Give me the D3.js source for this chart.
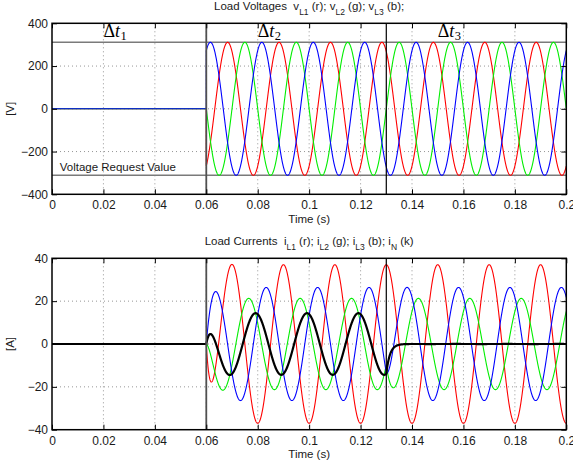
<!DOCTYPE html>
<html>
<head>
<meta charset="utf-8">
<script src="https://cdn.jsdelivr.net/npm/d3@7"></script>
<style>
  body { margin: 0; background: #fff; }
  svg { display: block; font-family: "Liberation Sans", Arial, Helvetica, sans-serif; }
</style>
</head>
<body>
<svg id="chart" width="573" height="466"></svg>
<script>
// ---- Axis ticks ----
const timeTicks = [0, 0.02, 0.04, 0.06, 0.08, 0.1, 0.12, 0.14, 0.16, 0.18, 0.2];
const timeTickLabels = ["0", "0.02", "0.04", "0.06", "0.08", "0.1", "0.12", "0.14", "0.16", "0.18", "0.2"];
const voltageTicks = [-400, -200, 0, 200, 400];
const voltageTickLabels = ["\u2212400", "\u2212200", "0", "200", "400"];
const currentTicks = [-40, -20, 0, 20, 40];
const currentTickLabels = ["\u221240", "\u221220", "0", "20", "40"];

// ---- Operating intervals: load connected at 0.06 s, load changed at 0.13 s ----
const intervalStarts = [0, 0.06, 0.13];
const intervalEnd = 0.2;
const intervalLabels = ["1", "2", "3"];
const intervalLabelTimes = [0.02, 0.08, 0.15];
const lineFrequency = 50; // Hz

// ---- Phase data: L1 (r), L2 (g), L3 (b) ----
const phaseNames = ["L1", "L2", "L3"];
const voltageAmplitude = [311, 311, 311];              // V peak
const voltagePeakTime = [0.0083, 0.0150, 0.0016];      // s, positive peak inside a 20 ms cycle
const currentAmplitude = [37.0, 21.3, 26.4];           // A peak
const currentPeakTimeDt2 = [0.0100, 0.0165, 0.0033];   // s, during Δt2
const currentPeakTimeDt3 = [0.0100, 0.00247, 0.01809]; // s, during Δt3
const transientTau = [0.0018, 0.0014];                 // s, decay after each switching
const voltageRequest = 311;                            // V

// ---- Styles ----
const phaseColors = ["#ff0000", "#00ee00", "#0000ff"];
const neutralColor = "#000000";

const svg = d3.select("#chart");

const x = d3.scaleLinear().domain([0, 0.2]).range([52, 566.3]);
const yV = d3.scaleLinear().domain([-400, 400]).range([194.3, 23.3]);
const yI = d3.scaleLinear().domain([-40, 40]).range([429.7, 258.3]);

const omega = 2 * Math.PI * lineFrequency;
const tConnect = intervalStarts[1];
const tChange = intervalStarts[2];
const steady = (amp, tp, t) => amp * Math.cos(omega * (t - tp));

// Waveforms evaluated per interval so each switching instant gets its left and right value
function voltage(k, t, seg) {
  if (seg === 0) return 0;
  return steady(voltageAmplitude[k], voltagePeakTime[k], t);
}
function current(k, t, seg) {
  if (seg === 0) return 0;
  const a = currentAmplitude[k];
  const start2 = steady(a, currentPeakTimeDt2[k], tConnect);
  const inDt2 = tt => steady(a, currentPeakTimeDt2[k], tt) - start2 * Math.exp(-(tt - tConnect) / transientTau[0]);
  if (seg === 1) return inDt2(t);
  const atChange = inDt2(tChange);
  const start3 = steady(a, currentPeakTimeDt3[k], tChange);
  return steady(a, currentPeakTimeDt3[k], t) + (atChange - start3) * Math.exp(-(t - tChange) / transientTau[1]);
}
function neutral(t, seg) {
  return -(current(0, t, seg) + current(1, t, seg) + current(2, t, seg));
}

const step = 0.00004;
const samples = [];
const bounds = intervalStarts.concat([intervalEnd]);
for (let s = 0; s < 3; s++) {
  const a = bounds[s], b = bounds[s + 1];
  const n = Math.round((b - a) / step);
  for (let j = 0; j <= n; j++) samples.push({ t: a + (b - a) * j / n, seg: s });
}

function drawPanel(yScale, ticks, tickLabels, title, yLabel, series) {
  const [yb, yt] = yScale.range();
  const [xl, xr] = x.range();
  const g = svg.append("g");

  const clipId = "clip" + Math.round(yt);
  svg.append("clipPath").attr("id", clipId)
    .append("rect").attr("x", xl).attr("y", yt).attr("width", xr - xl).attr("height", yb - yt);

  // dotted grid
  const grid = g.append("g").attr("stroke", "#8a8a8a").attr("stroke-width", 0.9).attr("stroke-dasharray", "1,3");
  grid.selectAll("line.vx").data(timeTicks.slice(1, -1)).join("line")
    .attr("x1", d => x(d)).attr("x2", d => x(d)).attr("y1", yt).attr("y2", yb);
  grid.selectAll("line.hy").data(ticks.slice(1, -1)).join("line")
    .attr("x1", xl).attr("x2", xr).attr("y1", d => yScale(d)).attr("y2", d => yScale(d));

  const plot = g.append("g").attr("clip-path", `url(#${clipId})`);
  series(plot);

  // switching instants
  plot.append("line").attr("x1", x(tConnect)).attr("x2", x(tConnect)).attr("y1", yt).attr("y2", yb)
    .attr("stroke", "#505050").attr("stroke-width", 1.8);
  plot.append("line").attr("x1", x(tChange)).attr("x2", x(tChange)).attr("y1", yt).attr("y2", yb)
    .attr("stroke", "#000").attr("stroke-width", 1.2);

  // axes with inward ticks on all four sides
  const fmt = (d, i) => tickLabels[i];
  const axes = g.append("g");
  axes.append("g").attr("transform", `translate(0,${yb})`)
    .call(d3.axisBottom(x).tickValues(timeTicks).tickFormat((d, i) => timeTickLabels[i]).tickSizeInner(-5).tickSizeOuter(0).tickPadding(6.5));
  axes.append("g").attr("transform", `translate(0,${yt})`)
    .call(d3.axisTop(x).tickValues(timeTicks).tickFormat("").tickSizeInner(-5).tickSizeOuter(0));
  axes.append("g").attr("transform", `translate(${xl},0)`)
    .call(d3.axisLeft(yScale).tickValues(ticks).tickFormat(fmt).tickSizeInner(-5).tickSizeOuter(0).tickPadding(4));
  axes.append("g").attr("transform", `translate(${xr},0)`)
    .call(d3.axisRight(yScale).tickValues(ticks).tickFormat("").tickSizeInner(-5).tickSizeOuter(0));
  axes.selectAll(".domain").remove();
  axes.selectAll(".tick line").attr("stroke", "#000").attr("stroke-width", 1);
  axes.selectAll(".tick text").attr("fill", "#1a1a1a").style("font-size", "12px")
    .style("font-family", '"Liberation Sans", Arial, sans-serif');

  g.append("rect").attr("x", xl).attr("y", yt).attr("width", xr - xl).attr("height", yb - yt)
    .attr("fill", "none").attr("stroke", "#000").attr("stroke-width", 1.5);

  // titles
  const tt = g.append("text").attr("x", (xl + xr) / 2).attr("y", yt - 13)
    .attr("text-anchor", "middle").attr("fill", "#1a1a1a").style("font-size", "11.5px")
    .attr("xml:space", "preserve");
  title.forEach(part => {
    if (part.sub) {
      tt.append("tspan").attr("dy", 4.5).style("font-size", "8.5px").text(part.sub);
      tt.append("tspan").attr("dy", -4.5).text(part.text);
    } else {
      tt.append("tspan").text(part.text);
    }
  });
  g.append("text").attr("x", (xl + xr) / 2).attr("y", yb + 28.5).attr("text-anchor", "middle")
    .attr("fill", "#1a1a1a").style("font-size", "11.5px").text("Time (s)");
  g.append("text").attr("transform", `translate(14,${(yt + yb) / 2}) rotate(-90)`)
    .attr("text-anchor", "middle").attr("fill", "#1a1a1a").style("font-size", "11.5px").text(yLabel);
  return g;
}

// ---- Load voltages ----
const voltagePanel = drawPanel(yV, voltageTicks, voltageTickLabels,
  [{ text: "Load Voltages  v" }, { sub: "L1", text: " (r); v" }, { sub: "L2", text: " (g); v" }, { sub: "L3", text: " (b);" }],
  "[V]",
  plot => {
    [voltageRequest, -voltageRequest].forEach(v => {
      plot.append("line").attr("x1", x(0)).attr("x2", x(0.2)).attr("y1", yV(v)).attr("y2", yV(v))
        .attr("stroke", "#7a7a7a").attr("stroke-width", 1.6);
    });
    phaseNames.forEach((name, k) => {
      const line = d3.line().x(d => x(d.t)).y(d => yV(voltage(k, d.t, d.seg)));
      plot.append("path").datum(samples).attr("d", line)
        .attr("fill", "none").attr("stroke", phaseColors[k]).attr("stroke-width", 1.1);
    });
  });

voltagePanel.append("text").attr("x", x(0.003)).attr("y", yV(-291)).attr("fill", "#1a1a1a")
  .style("font-size", "11.5px").text("Voltage Request Value");

intervalLabels.forEach((lab, i) => {
  const t = voltagePanel.append("text").attr("x", x(intervalLabelTimes[i])).attr("y", yV(337))
    .attr("fill", "#000").style("font-family", '"Liberation Serif", "DejaVu Serif", serif').style("font-size", "18px");
  t.append("tspan").text("\u0394");
  t.append("tspan").style("font-style", "italic").text("t");
  t.append("tspan").attr("dy", 3.5).attr("dx", 0.5).style("font-size", "12.5px").text(lab);
});

// ---- Load currents ----
drawPanel(yI, currentTicks, currentTickLabels,
  [{ text: "Load Currents  i" }, { sub: "L1", text: " (r); i" }, { sub: "L2", text: " (g); i" }, { sub: "L3", text: " (b); i" }, { sub: "N", text: " (k)" }],
  "[A]",
  plot => {
    phaseNames.forEach((name, k) => {
      const line = d3.line().x(d => x(d.t)).y(d => yI(current(k, d.t, d.seg)));
      plot.append("path").datum(samples).attr("d", line)
        .attr("fill", "none").attr("stroke", phaseColors[k]).attr("stroke-width", 1.1);
    });
    const nLine = d3.line().x(d => x(d.t)).y(d => yI(neutral(d.t, d.seg)));
    plot.append("path").datum(samples).attr("d", nLine)
      .attr("fill", "none").attr("stroke", neutralColor).attr("stroke-width", 2.2);
  });
</script>
</body>
</html>
